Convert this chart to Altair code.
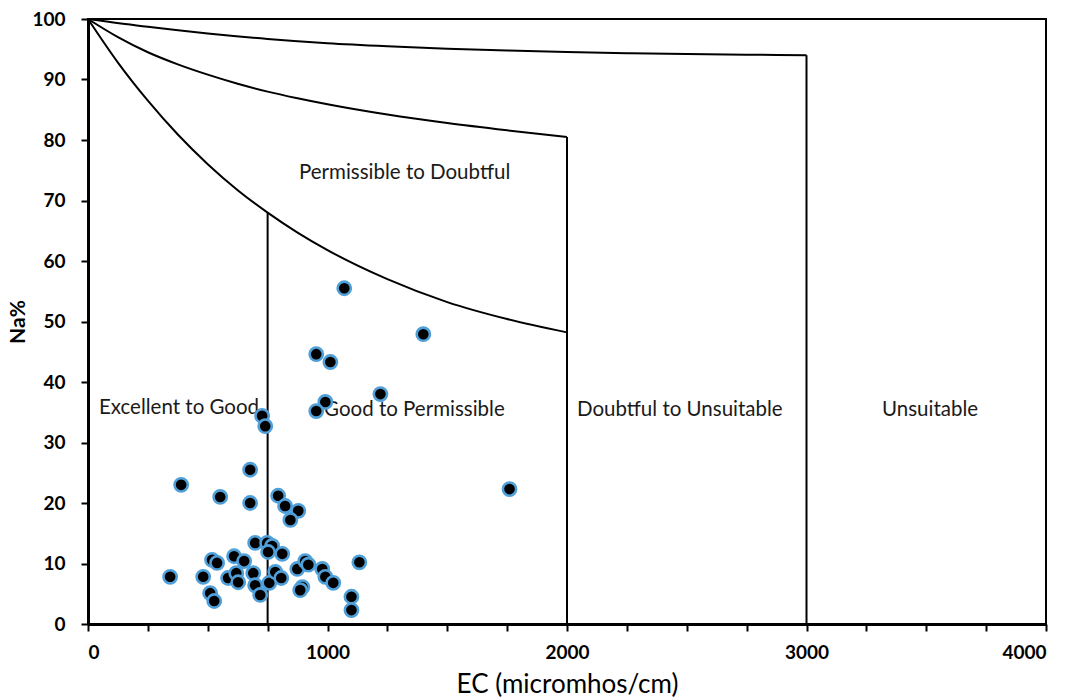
import altair as alt
import pandas as pd

# ---- sample points (EC in micromhos/cm, Na%) ----
ec = [1070, 1400, 953, 1012, 1221, 991, 953, 727, 740, 389, 1760, 677, 552, 677,
      794, 823, 878, 845, 343, 481, 518, 539, 510, 527, 610, 652, 585, 619, 627,
      690, 698, 748, 769, 752, 811, 698, 719, 757, 782, 807, 874, 907, 920, 895,
      886, 978, 991, 1024, 1100, 1100, 1133]
na = [55.5, 47.9, 44.6, 43.3, 38.0, 36.7, 35.2, 34.4, 32.7, 23.0, 22.3, 25.5, 21.0,
      20.0, 21.2, 19.5, 18.7, 17.2, 7.8, 7.8, 10.6, 10.1, 5.1, 3.8, 11.2, 10.4, 7.6,
      8.4, 6.9, 8.4, 13.4, 13.4, 12.9, 11.9, 11.6, 6.4, 4.8, 6.8, 8.6, 7.6, 9.1, 10.4,
      9.8, 6.1, 5.6, 9.1, 7.8, 6.8, 4.5, 2.3, 10.2]

# ---- class boundary curves ----
curve_ec = [0, 125, 250, 375, 500, 625, 750, 875, 1000, 1250, 1500, 1750, 2000]
lower_na = [100, 92.8, 86.5, 80.9, 76.0, 71.7, 68.0, 64.7, 61.8, 57.0, 53.2, 50.4, 48.2]
middle_na = [100, 97.0, 94.5, 92.5, 90.8, 89.3, 88.0, 86.9, 85.9, 84.2, 82.8, 81.6, 80.5]
top_ec = [0, 250, 500, 750, 1000, 1250, 1500, 1750, 2000, 2250, 2500, 2750, 3000]
top_na = [100, 98.7, 97.6, 96.7, 96.0, 95.5, 95.1, 94.8, 94.55, 94.35, 94.2, 94.1, 94.0]

bound_ec = [750, 2000, 3000]
bound_top = [68.0, 80.5, 94.0]

label_text = ["Permissible to Doubtful", "Excellent to Good", "Good to Permissible",
              "Doubtful to Unsuitable", "Unsuitable"]
label_ec = [1322, 380, 1363, 2471, 3516]
label_na = [74.5, 35.7, 35.4, 35.4, 35.4]

x_ticks = list(range(0, 4001, 250))
y_ticks = list(range(0, 101, 10))

pts = pd.DataFrame({"EC": ec, "Na": na})
curves = pd.concat([
    pd.DataFrame({"EC": curve_ec, "Na": lower_na, "c": "lower"}),
    pd.DataFrame({"EC": curve_ec, "Na": middle_na, "c": "middle"}),
    pd.DataFrame({"EC": top_ec, "Na": top_na, "c": "top"}),
])
bounds = pd.DataFrame({"EC": bound_ec, "top": bound_top, "bottom": [0] * len(bound_ec)})
labels = pd.DataFrame({"t": label_text, "EC": label_ec, "Na": label_na})

FONT = "Lato"

xscale = alt.Scale(domain=[0, 4000], nice=False)
yscale = alt.Scale(domain=[0, 100], nice=False)

xaxis = alt.Axis(values=x_ticks, labelExpr="datum.value % 1000 == 0 ? datum.label : ''",
                 title="EC (micromhos/cm)", grid=False, tickSize=7, tickWidth=2,
                 tickColor="black", domainColor="black", domainWidth=3,
                 labelFont=FONT, labelFontSize=19, labelFontWeight="bold", labelColor="black",
                 labelPadding=12, titleFont=FONT, titleFontSize=26, titleFontWeight="normal",
                 titleColor="black", titleBaseline="middle", titleY=60, format="d")
yaxis = alt.Axis(values=y_ticks, title="Na%", grid=False, tickSize=7, tickWidth=2,
                 tickColor="black", domainColor="black", domainWidth=3,
                 labelFont=FONT, labelFontSize=19, labelFontWeight="bold", labelColor="black",
                 labelPadding=16, titleFont=FONT, titleFontSize=21, titleFontWeight="bold",
                 titleColor="black", titleBaseline="middle", titleX=-70, format="d")

line = alt.Chart(curves).mark_line(color="black", strokeWidth=2, interpolate="monotone").encode(
    x=alt.X("EC:Q", scale=xscale, axis=xaxis),
    y=alt.Y("Na:Q", scale=yscale, axis=yaxis),
    detail="c:N",
)
rules = alt.Chart(bounds).mark_rule(color="black", strokeWidth=2).encode(
    x=alt.X("EC:Q", scale=xscale),
    y=alt.Y("bottom:Q", scale=yscale),
    y2="top:Q",
)
points = alt.Chart(pts).mark_circle(size=175, color="black", opacity=1,
                                    stroke="#4f9fd9", strokeWidth=2.6).encode(
    x=alt.X("EC:Q", scale=xscale),
    y=alt.Y("Na:Q", scale=yscale),
)
texts = alt.Chart(labels).mark_text(font=FONT, fontSize=20.5, color="#1a1a1a").encode(
    x=alt.X("EC:Q", scale=xscale),
    y=alt.Y("Na:Q", scale=yscale),
    text="t:N",
)

chart = alt.layer(line, rules, texts, points).properties(
    width=958, height=605,
    padding={"left": 88, "top": 19, "right": 30, "bottom": 75},
    autosize=alt.AutoSizeParams(type="none"),
).configure_view(stroke="black", strokeWidth=2)

chart.save("out.html", embed_options={"renderer": "svg", "actions": False})
